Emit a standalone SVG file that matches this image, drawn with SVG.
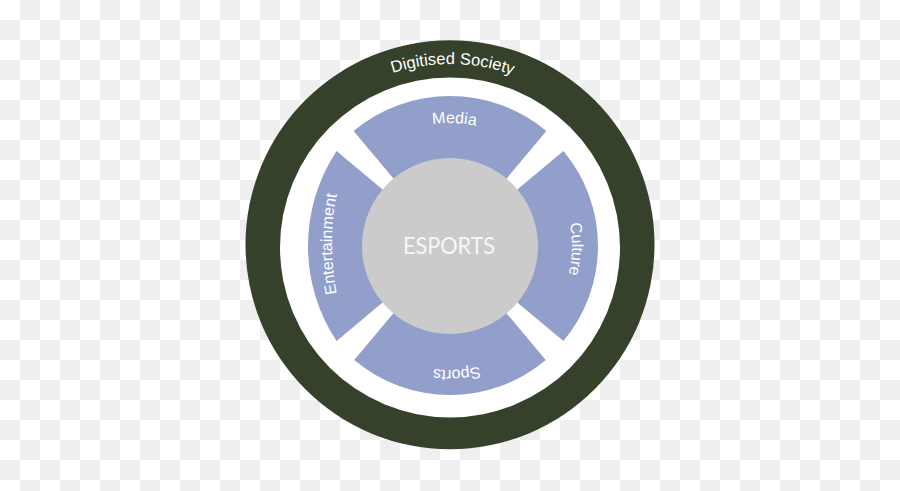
<svg xmlns="http://www.w3.org/2000/svg" xmlns:xlink="http://www.w3.org/1999/xlink" width="900" height="491" viewBox="0 0 900 491">
  <defs>
    <pattern id="checker" x="0" y="0" width="40" height="40" patternUnits="userSpaceOnUse">
      <rect x="0" y="0" width="40" height="40" fill="#ffffff"/>
      <rect x="20" y="0" width="20" height="20" fill="#efefef"/>
      <rect x="0" y="20" width="20" height="20" fill="#efefef"/>
    </pattern>
    <path id="p-society" d="M278.0,182.7 A184,184 0 0 1 623.8,187.5"/>
    <path id="p-media" d="M336.0,199.9 A123,123 0 0 1 567.0,208.0"/>
    <path id="p-culture" d="M494.5,132.4 A122,122 0 0 1 488.9,361.6"/>
    <path id="p-sports" d="M568.6,282.0 A124,124 0 0 1 335.9,294.6"/>
    <path id="p-ent" d="M361.3,364 A260,260 0 0 1 361.3,124"/>
  </defs>
  <style>
    .sector { fill: #929fcb; }
    .lbl { fill: #ffffff; font-family: "Liberation Sans", Arial, sans-serif; font-size: 16px; }
    .ring-lbl { fill: #ffffff; font-family: "Liberation Sans", Arial, sans-serif; font-size: 16.5px; }
    .core-lbl { fill: #f7f7f7; font-family: "Lato", "Liberation Sans", sans-serif; font-size: 23px; }
  </style>
  <rect x="0" y="0" width="900" height="491" fill="url(#checker)"/>

  <g id="digitised-society">
    <circle cx="450" cy="244.7" r="204.5" fill="#36412b"/>
    <circle cx="450" cy="247.5" r="170" fill="#ffffff"/>
    <text class="ring-lbl"><textPath xlink:href="#p-society" href="#p-society" startOffset="50%" text-anchor="middle">Digitised Society</textPath></text>
  </g>

  <g id="media">
    <path class="sector" d="M450,246 L353.6,131.1 A150,150 0 0 1 546.4,131.1 Z"/>
    <text class="lbl"><textPath xlink:href="#p-media" href="#p-media" startOffset="50%" text-anchor="middle">Media</textPath></text>
  </g>

  <g id="culture">
    <path class="sector" d="M450,246 L563.4,150.9 A148,148 0 0 1 563.4,341.1 Z"/>
    <text class="lbl"><textPath xlink:href="#p-culture" href="#p-culture" startOffset="50%" text-anchor="middle">Culture</textPath></text>
  </g>

  <g id="sports">
    <path class="sector" d="M450,246 L545.8,360.1 A149,149 0 0 1 354.2,360.1 Z"/>
    <text class="lbl"><textPath xlink:href="#p-sports" href="#p-sports" startOffset="50%" text-anchor="middle">Sports</textPath></text>
  </g>

  <g id="entertainment">
    <path class="sector" d="M450,246 L336.6,341.1 A172.4,172.4 0 0 1 336.6,150.9 Z"/>
    <text class="lbl"><textPath xlink:href="#p-ent" href="#p-ent" startOffset="50%" text-anchor="middle">Entertainment</textPath></text>
  </g>

  <g id="esports">
    <circle cx="450" cy="246" r="88" fill="#cbcbcb"/>
    <text class="core-lbl" x="449" y="253.5" text-anchor="middle" textLength="92" lengthAdjust="spacingAndGlyphs">ESPORTS</text>
  </g>
</svg>
